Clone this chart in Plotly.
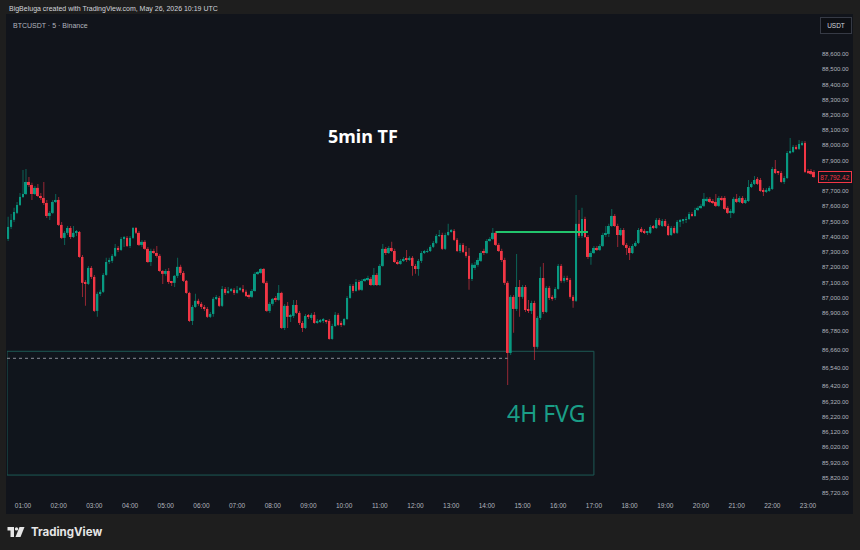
import plotly.graph_objects as go
import pandas as pd

# ---------------- data (BTCUSDT 5-min candles) ----------------
start_time = "2026-05-25 00:35"

opens = [
    87386, 87465, 87511, 87557, 87609, 87662, 87681, 87760, 87740, 87681,
    87721, 87668, 87655, 87622, 87537, 87557, 87629, 87642, 87478, 87393,
    87426, 87458, 87399, 87426, 87432, 87268, 87098, 87091, 87196, 87137,
    86914, 87026, 87039, 87150, 87235, 87242, 87275, 87327, 87314, 87386,
    87393, 87340, 87393, 87458, 87426, 87347, 87367, 87321, 87235, 87307,
    87294, 87275, 87176, 87157, 87176, 87104, 87098, 87144, 87203, 87163,
    87111, 87032, 86848, 86940, 86980, 86960, 86940, 86927, 86875, 86894,
    86993, 86999, 86947, 87058, 87032, 87045, 87052, 87032, 87052, 87058,
    87039, 87012, 87006, 87045, 87157, 87163, 87189, 87098, 86914, 86960,
    86993, 86986, 87032, 86802, 86947, 86875, 86881, 86953, 86901, 86835,
    86802, 86881, 86868, 86888, 86835, 86842, 86848, 86848, 86848, 86730,
    86815, 86888, 86835, 86822, 86861, 86999, 87078, 87045, 87104, 87052,
    87111, 87117, 87124, 87084, 87150, 87084, 87209, 87321, 87294, 87327,
    87307, 87235, 87222, 87242, 87255, 87248, 87262, 87209, 87189, 87242,
    87294, 87301, 87307, 87334, 87360, 87406, 87412, 87321, 87412, 87432,
    87439, 87380, 87307, 87347, 87301, 87275, 87124, 87196, 87216, 87242,
    87307, 87294, 87373, 87386, 87426, 87347, 87307, 87248, 87098, 86638,
    87006, 86927, 87071, 87006, 87071, 86920, 86914, 86966, 86678, 86868,
    87130, 86907, 87065, 87006, 86999, 87058, 87209, 87111, 87130, 87117,
    87006, 86980, 87485, 87406, 87517, 87399, 87268, 87294, 87327, 87314,
    87340, 87412, 87419, 87471, 87537, 87471, 87412, 87445, 87347, 87327,
    87294, 87340, 87360, 87452, 87439, 87426, 87426, 87465, 87458, 87511,
    87471, 87504, 87471, 87412, 87458, 87426, 87498, 87504, 87511, 87517,
    87550, 87537, 87576, 87590, 87603, 87635, 87649, 87635, 87629, 87603,
    87655, 87655, 87590, 87557, 87557, 87649, 87629, 87655, 87622, 87635,
    87727, 87747, 87780, 87773, 87708, 87695, 87701, 87714, 87845, 87826,
    87819, 87760, 87786, 87950, 87957, 87990, 87977, 88003, 88016, 87832,
    87832, 87826,
]

highs = [
    87531, 87550, 87590, 87629, 87688, 87839, 87845, 87793, 87754, 87734,
    87747, 87688, 87760, 87642, 87570, 87642, 87681, 87662, 87498, 87439,
    87471, 87471, 87471, 87445, 87439, 87281, 87117, 87209, 87209, 87150,
    87039, 87052, 87163, 87262, 87262, 87288, 87353, 87340, 87399, 87406,
    87406, 87406, 87465, 87465, 87439, 87380, 87380, 87334, 87321, 87321,
    87340, 87288, 87183, 87189, 87196, 87111, 87150, 87262, 87216, 87176,
    87117, 87039, 86953, 87026, 86993, 86973, 86953, 86940, 86907, 87006,
    87019, 87012, 87078, 87071, 87071, 87065, 87065, 87078, 87071, 87084,
    87052, 87026, 87058, 87170, 87176, 87196, 87196, 87111, 86973, 86999,
    87012, 87084, 87039, 86960, 86973, 86894, 86986, 86986, 86914, 86848,
    86894, 86894, 86901, 86907, 86861, 86861, 86868, 86855, 86861, 86829,
    86907, 86901, 86848, 86868, 87012, 87091, 87091, 87124, 87117, 87124,
    87130, 87144, 87137, 87196, 87163, 87222, 87353, 87334, 87340, 87367,
    87321, 87248, 87255, 87268, 87314, 87275, 87275, 87222, 87255, 87307,
    87314, 87321, 87347, 87373, 87419, 87445, 87426, 87426, 87485, 87452,
    87452, 87393, 87360, 87360, 87340, 87327, 87229, 87235, 87262, 87307,
    87321, 87386, 87399, 87458, 87439, 87360, 87321, 87262, 87111, 87019,
    87019, 87288, 87117, 87084, 87084, 86986, 86980, 86980, 86881, 87203,
    87229, 87078, 87078, 87019, 87071, 87222, 87222, 87144, 87144, 87130,
    87019, 87675, 87576, 87590, 87531, 87412, 87307, 87340, 87340, 87353,
    87426, 87471, 87485, 87583, 87550, 87485, 87458, 87458, 87360, 87340,
    87353, 87373, 87458, 87465, 87452, 87439, 87478, 87478, 87524, 87524,
    87517, 87517, 87485, 87471, 87471, 87511, 87517, 87517, 87531, 87563,
    87563, 87590, 87603, 87616, 87688, 87662, 87662, 87649, 87681, 87668,
    87668, 87668, 87603, 87583, 87662, 87681, 87668, 87668, 87655, 87773,
    87760, 87799, 87793, 87786, 87721, 87721, 87734, 87858, 87904, 87832,
    87832, 87799, 87963, 88049, 88003, 88003, 88036, 88029, 88029, 87845,
    87845, 87839,
]

lows = [
    87373, 87452, 87498, 87550, 87603, 87655, 87675, 87727, 87642, 87675,
    87662, 87642, 87609, 87524, 87511, 87550, 87622, 87471, 87386, 87347,
    87412, 87386, 87393, 87406, 87262, 87006, 86947, 87084, 87124, 86907,
    86875, 87012, 87032, 87144, 87222, 87229, 87268, 87301, 87307, 87334,
    87334, 87327, 87386, 87419, 87340, 87334, 87314, 87229, 87209, 87288,
    87262, 87170, 87091, 87144, 87091, 87078, 87071, 87130, 87150, 87104,
    87026, 86842, 86822, 86934, 86947, 86927, 86914, 86868, 86868, 86875,
    86986, 86940, 86940, 87019, 87026, 87039, 87019, 87026, 87045, 87032,
    87006, 86993, 86999, 87039, 87150, 87157, 87091, 86907, 86901, 86947,
    86973, 86980, 86796, 86789, 86802, 86842, 86868, 86894, 86822, 86776,
    86796, 86861, 86855, 86829, 86829, 86835, 86835, 86829, 86724, 86724,
    86809, 86815, 86809, 86815, 86855, 86993, 87032, 87039, 87045, 87045,
    87104, 87111, 87078, 87078, 87078, 87078, 87203, 87281, 87288, 87301,
    87229, 87216, 87216, 87235, 87235, 87242, 87144, 87157, 87144, 87229,
    87288, 87294, 87301, 87327, 87353, 87399, 87314, 87314, 87406, 87426,
    87373, 87301, 87294, 87294, 87262, 87052, 87111, 87183, 87203, 87235,
    87281, 87288, 87367, 87380, 87340, 87301, 87235, 87084, 86428, 86625,
    86770, 86914, 86875, 86993, 86907, 86901, 86894, 86592, 86665, 86855,
    86894, 86901, 86986, 86980, 86986, 87052, 87098, 87098, 87104, 86993,
    86934, 86973, 87393, 87393, 87393, 87255, 87216, 87288, 87307, 87307,
    87334, 87399, 87399, 87465, 87465, 87334, 87406, 87340, 87281, 87248,
    87288, 87334, 87353, 87426, 87419, 87412, 87419, 87452, 87452, 87471,
    87465, 87465, 87406, 87406, 87419, 87419, 87465, 87485, 87491, 87511,
    87531, 87531, 87570, 87583, 87596, 87629, 87622, 87616, 87596, 87596,
    87635, 87576, 87550, 87524, 87550, 87622, 87622, 87616, 87616, 87629,
    87721, 87740, 87740, 87695, 87668, 87688, 87695, 87708, 87813, 87806,
    87754, 87747, 87780, 87944, 87950, 87970, 87970, 87996, 87819, 87813,
    87806, 87786,
]

closes = [
    87465, 87511, 87563, 87609, 87662, 87681, 87760, 87740, 87681, 87721,
    87668, 87655, 87622, 87537, 87557, 87629, 87642, 87478, 87393, 87426,
    87458, 87399, 87426, 87432, 87268, 87098, 87091, 87196, 87137, 86914,
    87026, 87039, 87150, 87235, 87242, 87275, 87327, 87314, 87386, 87393,
    87340, 87393, 87458, 87426, 87347, 87367, 87321, 87235, 87307, 87294,
    87275, 87176, 87157, 87176, 87104, 87098, 87144, 87203, 87163, 87111,
    87032, 86848, 86940, 86980, 86960, 86940, 86927, 86875, 86894, 86993,
    86999, 86947, 87058, 87032, 87045, 87052, 87032, 87052, 87058, 87039,
    87012, 87006, 87045, 87157, 87163, 87189, 87098, 86914, 86960, 86993,
    86986, 87032, 86802, 86947, 86875, 86881, 86953, 86901, 86835, 86802,
    86881, 86875, 86888, 86835, 86848, 86848, 86855, 86842, 86730, 86815,
    86888, 86822, 86822, 86861, 86999, 87078, 87045, 87104, 87052, 87111,
    87117, 87130, 87084, 87150, 87084, 87209, 87321, 87294, 87327, 87307,
    87235, 87222, 87242, 87255, 87248, 87262, 87209, 87189, 87242, 87294,
    87301, 87307, 87334, 87360, 87406, 87412, 87321, 87412, 87432, 87439,
    87380, 87307, 87347, 87301, 87275, 87124, 87216, 87216, 87248, 87294,
    87294, 87373, 87386, 87426, 87347, 87307, 87248, 87098, 86638, 87006,
    86927, 87071, 87006, 87071, 86920, 86914, 86966, 86678, 86868, 87130,
    86907, 87065, 86999, 86993, 87058, 87209, 87111, 87130, 87117, 87006,
    86980, 87485, 87406, 87517, 87399, 87268, 87294, 87327, 87314, 87340,
    87412, 87419, 87471, 87537, 87471, 87412, 87445, 87347, 87327, 87294,
    87340, 87360, 87445, 87432, 87426, 87432, 87465, 87458, 87511, 87478,
    87504, 87471, 87412, 87458, 87426, 87498, 87504, 87511, 87517, 87550,
    87537, 87576, 87590, 87603, 87649, 87649, 87629, 87622, 87603, 87655,
    87642, 87583, 87557, 87570, 87649, 87629, 87655, 87622, 87642, 87727,
    87747, 87773, 87747, 87701, 87695, 87708, 87721, 87845, 87819, 87819,
    87760, 87786, 87950, 87957, 87990, 87977, 88009, 88016, 87826, 87819,
    87813, 87792.42,
]

assert len(opens) == len(highs) == len(lows) == len(closes), (len(opens), len(highs), len(lows), len(closes))

last_price = 87792.42

# 4H fair value gap and levels
fvg_top = 86649
fvg_bottom = 85837
fvg_end = "2026-05-25 17:00"
sweep_level = 86603
sweep_time = "2026-05-25 14:35"
high_level = 87432
high_level_start = "2026-05-25 14:15"
high_level_end = "2026-05-25 16:50"

# axis ticks
hour_ticks = ["%02d:00" % h for h in range(1, 24)]
price_ticks = [88600, 88500, 88400, 88300, 88200, 88100, 88000, 87900, 87700, 87600,
               87500, 87400, 87300, 87200, 87100, 87000, 86900, 86780, 86660, 86540,
               86420, 86320, 86220, 86120, 86020, 85920, 85820, 85720]
x_range = ["2026-05-25 00:33:06", "2026-05-25 23:15:08"]
y_range = [85693, 88862]

# ---------------- styling ----------------
W, H = 860, 550
L, R, T, B = 7, 817, 14, 497
PANEL = "#11141b"
OUTER = "#1e1e1e"
GREEN = "#089981"
RED = "#f23645"
GREEN_WICK = "rgba(8,153,129,0.6)"
RED_WICK = "rgba(242,54,69,0.6)"
TXT = "#b2b5be"


def px(x):
    return (x - L) / (R - L)


def py(y):
    return (B - y) / (B - T)


times = pd.date_range(start_time, periods=len(closes), freq="5min")
tick_times = [pd.Timestamp("2026-05-25 " + t) for t in hour_ticks]

inc = [c >= o for o, c in zip(opens, closes)]
dec = [not v for v in inc]


def sel(seq, mask):
    return [v for v, m in zip(seq, mask) if m]


min_body = 3.0
fig = go.Figure()

for mask, wcol in [(inc, GREEN_WICK), (dec, RED_WICK)]:
    t = sel(times, mask)
    h = sel(highs, mask)
    lo = sel(lows, mask)
    fig.add_trace(go.Bar(
        x=t, base=lo, y=[hh - ll for hh, ll in zip(h, lo)],
        width=100000, marker=dict(color=wcol, line=dict(width=0)),
        hoverinfo="skip", showlegend=False))

for mask, bcol in [(inc, GREEN), (dec, RED)]:
    t = sel(times, mask)
    o = sel(opens, mask)
    c = sel(closes, mask)
    base = [min(a, b) for a, b in zip(o, c)]
    hgt = [max(abs(b - a), min_body) for a, b in zip(o, c)]
    fig.add_trace(go.Bar(
        x=t, base=base, y=hgt,
        width=200000, marker=dict(color=bcol, line=dict(width=0)),
        hoverinfo="skip", showlegend=False))

shapes = []
# chart panel background
shapes.append(dict(type="rect", xref="paper", yref="paper",
                   x0=px(6), x1=px(853), y0=py(514), y1=py(14),
                   fillcolor=PANEL, line=dict(width=0), layer="below"))
# FVG box
shapes.append(dict(type="rect", xref="x", yref="y",
                   x0=x_range[0], x1=fvg_end, y0=fvg_bottom, y1=fvg_top,
                   fillcolor="rgba(8,153,129,0.015)",
                   line=dict(color="#1d5a55", width=1), layer="below"))
# sweep dashed line
shapes.append(dict(type="line", xref="x", yref="y",
                   x0=x_range[0], x1=sweep_time, y0=sweep_level, y1=sweep_level,
                   line=dict(color="#8a8d96", width=1, dash="3px,3px")))
# green high level
shapes.append(dict(type="line", xref="x", yref="y",
                   x0=high_level_start, x1=high_level_end, y0=high_level, y1=high_level,
                   line=dict(color="#22c46c", width=2)))

# TradingView logo (footer)
LOGO = "#e6e6e6"
shapes.append(dict(type="rect", xref="paper", yref="paper",
                   x0=px(7.5), x1=px(14), y0=py(530.5), y1=py(527),
                   fillcolor=LOGO, line=dict(width=0)))
shapes.append(dict(type="rect", xref="paper", yref="paper",
                   x0=px(10.5), x1=px(14), y0=py(537), y1=py(527),
                   fillcolor=LOGO, line=dict(width=0)))
shapes.append(dict(type="circle", xref="paper", yref="paper",
                   x0=px(14.8), x1=px(18.2), y0=py(530.6), y1=py(527.2),
                   fillcolor=LOGO, line=dict(width=0)))
path = "M %f,%f L %f,%f L %f,%f L %f,%f Z" % (
    px(19.5), py(527), px(24.5), py(527), px(20.5), py(537), px(15.5), py(537))
shapes.append(dict(type="path", xref="paper", yref="paper", path=path,
                   fillcolor=LOGO, line=dict(width=0)))

annotations = [
    dict(xref="paper", yref="paper", x=px(7), y=py(9), xanchor="left", yanchor="middle",
         text="BigBeluga created with TradingView.com, May 26, 2026 10:19 UTC",
         showarrow=False, font=dict(size=7, color="#d1d4dc", family="Liberation Sans")),
    dict(xref="paper", yref="paper", x=px(11), y=py(25), xanchor="left", yanchor="middle",
         text="BTCUSDT · 5 · Binance",
         showarrow=False, font=dict(size=7, color=TXT, family="Liberation Sans")),
    dict(xref="paper", yref="paper", x=px(363), y=py(136), xanchor="center", yanchor="middle",
         text="<b>5min TF</b>", showarrow=False,
         font=dict(size=18, color="#ffffff", family="Noto Sans")),
    dict(xref="paper", yref="paper", x=px(546), y=py(413), xanchor="center", yanchor="middle",
         text="4H FVG", showarrow=False,
         font=dict(size=23, color="#1a9e87", family="Noto Sans")),
    dict(xref="paper", yref="y", x=px(818), y=last_price, xanchor="left", yanchor="middle",
         text="{:,.2f}".format(last_price), showarrow=False, width=30, height=8,
         font=dict(size=6.5, color=RED, family="Liberation Sans"),
         bgcolor=PANEL, bordercolor=RED, borderwidth=1, borderpad=1),
    dict(xref="paper", yref="paper", x=px(835.5), y=py(25.5), xanchor="center", yanchor="middle",
         text="USDT", showarrow=False, width=26, height=11,
         font=dict(size=6.5, color="#d1d4dc", family="Liberation Sans"),
         bgcolor="#0d0f14", bordercolor="#363a45", borderwidth=1, borderpad=2),
    dict(xref="paper", yref="paper", x=px(29), y=py(531.5), xanchor="left", yanchor="middle",
         text="<b>TradingView</b>", showarrow=False,
         font=dict(size=11.5, color=LOGO, family="Inter")),
]

fig.update_layout(
    width=W, height=H,
    margin=dict(l=L, r=W - R, t=T, b=H - B, pad=0),
    paper_bgcolor=OUTER, plot_bgcolor=PANEL,
    barmode="overlay",
    shapes=shapes, annotations=annotations,
    showlegend=False,
    xaxis=dict(type="date", range=x_range, tickvals=tick_times, ticktext=hour_ticks,
               showgrid=False, zeroline=False, showline=False, ticks="",
               tickfont=dict(size=6.5, color=TXT, family="Liberation Sans"),
               ticklabelstandoff=3, rangeslider=dict(visible=False), fixedrange=True),
    yaxis=dict(range=y_range, side="right", tickvals=price_ticks,
               ticktext=["{:,.2f}".format(v) for v in price_ticks],
               showgrid=False, zeroline=False, showline=False, ticks="",
               tickfont=dict(size=6, color=TXT, family="Liberation Sans"),
               ticklabelstandoff=4, fixedrange=True),
)

fig.write_html("out.html")
